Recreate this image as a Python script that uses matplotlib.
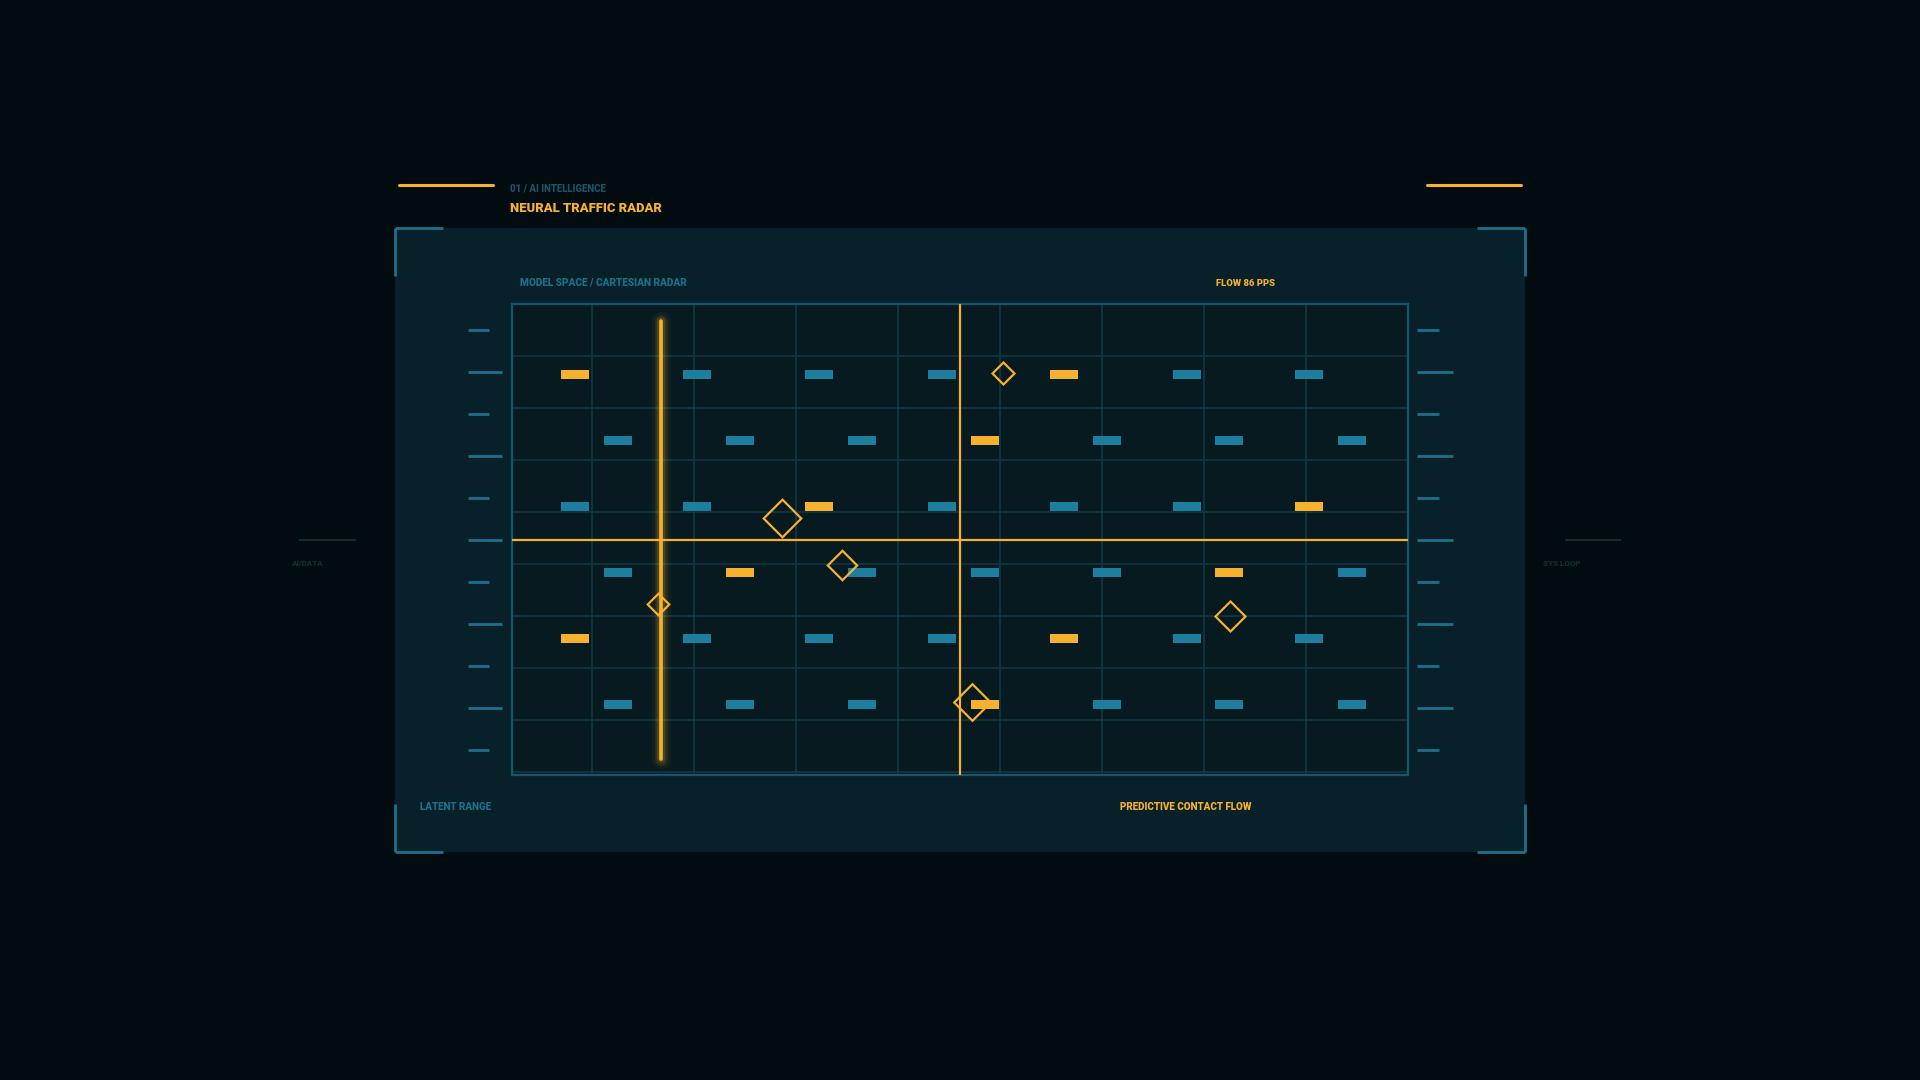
import matplotlib
matplotlib.use("Agg")
import matplotlib.pyplot as plt
from matplotlib.patches import Rectangle

plt.rcParams['font.family'] = ['Roboto', 'DejaVu Sans']

# ---------------- data (plot units: x in [-44.8, 44.8], y in [-23.55, 23.55]) ----------------
row_y = [16.5, 9.9, 3.3, -3.3, -9.9, -16.5]
cols_a = [-38.5, -26.3, -14.1, -1.8, 10.4, 22.7, 34.9]
cols_b = [-34.2, -22.0, -9.8, 2.5, 14.7, 26.9, 39.2]
# 1 = alert (orange), 0 = normal (blue); one list per row
row_states = [
    [1, 0, 0, 0, 1, 0, 0],
    [0, 0, 0, 1, 0, 0, 0],
    [0, 0, 1, 0, 0, 0, 1],
    [0, 1, 0, 0, 0, 1, 0],
    [1, 0, 0, 0, 1, 0, 0],
    [0, 0, 0, 1, 0, 0, 0],
]
row_cols = [cols_a, cols_b, cols_a, cols_b, cols_a, cols_b]

contact_x = [4.27, -17.77, -11.8, -30.23, 27.0, 1.17]
contact_y = [16.68, 2.12, -2.58, -6.45, -7.65, -16.28]
contact_r = [11.0, 18.8, 14.7, 10.8, 15.0, 18.3]   # half-diagonal, px

grid_x = [-36.8, -26.6, -16.4, -6.2, 4.0, 14.2, 24.4, 34.6]
grid_y = [18.35, 13.15, 7.95, 2.75, -2.45, -7.65, -12.85, -18.05, -23.25]

sweep_x = -29.9
sweep_y = (-21.95, 21.85)

# ---------------- colours ----------------
BG = '#020b0f'
PANEL = '#072029'
PLOT_BG = '#061a20'
GRID = '#103845'
BORDER = '#1a5468'
BLUE = '#1e7e9f'
BLUE_TXT = '#1f6f8b'
ORANGE = '#f6b12e'

W, H = 1920, 1080
fig = plt.figure(figsize=(19.2, 10.8), dpi=100, facecolor=BG)

# overlay axes in pixel coordinates
ov = fig.add_axes([0, 0, 1, 1])
ov.set_xlim(0, W)
ov.set_ylim(H, 0)
ov.axis('off')
ov.set_facecolor('none')

# panel
ov.add_patch(Rectangle((395, 228), 1130, 624, facecolor=PANEL, edgecolor='none', zorder=0))
# corner brackets
bl = 48
bkw = dict(color=BLUE_TXT, lw=2.0, solid_capstyle='butt', zorder=2)
ov.plot([395, 395 + bl], [228, 228], **bkw); ov.plot([395, 395], [228, 228 + bl], **bkw)
ov.plot([1525 - bl, 1525], [228, 228], **bkw); ov.plot([1525, 1525], [228, 228 + bl], **bkw)
ov.plot([395, 395 + bl], [852, 852], **bkw); ov.plot([395, 395], [852 - bl, 852], **bkw)
ov.plot([1525 - bl, 1525], [852, 852], **bkw); ov.plot([1525, 1525], [852 - bl, 852], **bkw)

# top orange accents
ov.plot([399, 493], [185, 185], color=ORANGE, lw=2.2, solid_capstyle='round')
ov.plot([1427, 1521], [185, 185], color=ORANGE, lw=2.2, solid_capstyle='round')

# side faint lines
ov.plot([300, 355], [540, 540], color='#0f2f3a', lw=1.5)
ov.plot([1566, 1620], [540, 540], color='#0f2f3a', lw=1.5)

# side ticks
for k in range(11):
    yy = 329.5 + 42 * k
    long_ = (k % 2 == 1)
    ov.plot([468, 502 if long_ else 489], [yy, yy], color=BLUE_TXT, lw=2.0, solid_capstyle='butt')
    ov.plot([1417, 1453 if long_ else 1439], [yy, yy], color=BLUE_TXT, lw=2.0, solid_capstyle='butt')

# texts
tk = dict(fontweight='black', va='center', ha='left')
ov.text(510, 188, '01 / AI INTELLIGENCE', color='#1b5369', fontsize=7, **tk)
ov.text(510, 209, 'NEURAL TRAFFIC RADAR', color=ORANGE, fontsize=9.4, **tk)
ov.text(520, 283, 'MODEL SPACE / CARTESIAN RADAR', color=BLUE_TXT, fontsize=7.3, **tk)
ov.text(1216, 283, 'FLOW 86 PPS', color=ORANGE, fontsize=6.8, **tk)
ov.text(291, 563, 'AI/DATA', color='#0e2e39', fontsize=5.8, **tk)
ov.text(1543, 563, 'SYS LOOP', color='#0e2e39', fontsize=5.8, **tk)
ov.text(420, 807, 'LATENT RANGE', color=BLUE_TXT, fontsize=7.1, **tk)
ov.text(1120, 807, 'PREDICTIVE CONTACT FLOW', color=ORANGE, fontsize=7.1, **tk)

# ---------------- radar axes ----------------
x0, y0, x1, y1 = 512, 304, 1408, 775
ax = fig.add_axes([x0 / W, 1 - y1 / H, (x1 - x0) / W, (y1 - y0) / H])
ax.set_xlim(-44.8, 44.8)
ax.set_ylim(-23.55, 23.55)
ax.set_facecolor(PLOT_BG)
ax.set_xticks([]); ax.set_yticks([])
for s in ax.spines.values():
    s.set_color(BORDER)
    s.set_linewidth(1.6)

for gx in grid_x:
    ax.axvline(gx, color=GRID, lw=1.2, zorder=1)
for gy in grid_y:
    ax.axhline(gy, color=GRID, lw=1.2, zorder=1)

# bars
bw, bh = 2.87, 0.83
for ry, cols, states in zip(row_y, row_cols, row_states):
    for cx, st in zip(cols, states):
        ax.barh(ry, bw, left=cx - bw / 2, height=bh,
                color=ORANGE if st else BLUE, zorder=3, linewidth=0)

# crosshair
ax.axhline(0, color=ORANGE, lw=1.6, zorder=4)
ax.axvline(0, color=ORANGE, lw=1.6, zorder=4)

# sweep line with glow
for lw, a in [(14, 0.05), (9, 0.10), (6, 0.18)]:
    ax.plot([sweep_x, sweep_x], sweep_y, color=ORANGE, lw=lw, alpha=a,
            solid_capstyle='round', zorder=4)
ax.plot([sweep_x, sweep_x], sweep_y, color=ORANGE, lw=2.6,
        solid_capstyle='round', zorder=5)

# contacts (diamonds)
for cx, cy, r in zip(contact_x, contact_y, contact_r):
    ms = 2 * r * 72 / 100
    ax.plot([cx], [cy], marker=(4, 0, 0), ms=ms, mfc='none', mec=ORANGE,
            mew=1.6, linestyle='none', zorder=6)

fig.savefig('out.png', dpi=100, facecolor=BG)
